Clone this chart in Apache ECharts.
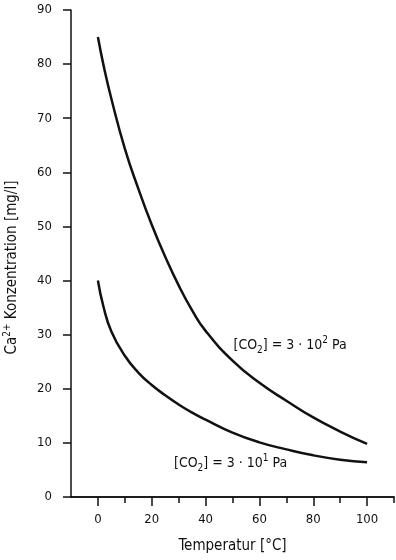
<!DOCTYPE html>
<html><head><meta charset="utf-8">
<script src="https://cdn.jsdelivr.net/npm/echarts@6/dist/echarts.min.js"></script>
<style>html,body{margin:0;padding:0;background:#fff}#c{width:396px;height:560px}</style>
</head><body><div id="c"></div>
<script>
const temperature = [0, 2, 5, 10, 15, 20, 25, 30, 35, 40, 50, 60, 70, 80, 90, 100];
const caHigh = [85, 80, 73.6, 64.4, 57, 50.3, 44.4, 39.1, 34.5, 30.7, 25.2, 21.1, 17.8, 14.7, 12.1, 9.8];
const caLow  = [40, 35.3, 30.6, 26.1, 23, 20.7, 18.8, 17.1, 15.6, 14.3, 11.9, 10.1, 8.8, 7.7, 6.9, 6.4];
const xMajorTicks = [0, 20, 40, 60, 80, 100];
const xMinorTicks = [10, 30, 50, 70, 90, 110];
const yTicks = [0, 10, 20, 30, 40, 50, 60, 70, 80, 90];
const labelHigh = { x: 71.4, y: 28, sup: '2' };
const labelLow = { x: 49.3, y: 6.3, sup: '1' };

const FONT = "'Liberation Sans Narrow', 'DejaVu Sans Condensed', sans-serif";
const INK = '#111';

function pairs(xs, ys) { return xs.map((x, i) => [x, ys[i]]); }

const richStyle = {
  b: { fontSize: 14, fontFamily: FONT, color: INK, lineHeight: 20, verticalAlign: 'middle' },
  sub: { fontSize: 10, fontFamily: FONT, color: INK, lineHeight: 20, verticalAlign: 'bottom' },
  sup: { fontSize: 10, fontFamily: FONT, color: INK, lineHeight: 20, verticalAlign: 'top' }
};
function coLabel(sup) {
  return '{b|[CO}{sub|2}{b|] = 3 · 10}{sup|' + sup + '}{b| Pa}';
}

const chart = echarts.init(document.getElementById('c'), null, { renderer: 'canvas' });
const baseX = {
  type: 'value', min: -10, max: 110, interval: 10, position: 'bottom',
  axisLine: { show: true, onZero: false, lineStyle: { color: INK, width: 1.5 } },
  splitLine: { show: false }
};
chart.setOption({
  animation: false,
  backgroundColor: '#fff',
  grid: { left: 71, top: 10, width: 323, height: 487, containLabel: false, outerBoundsMode: 'none' },
  xAxis: [
    Object.assign({}, baseX, {
      name: 'Temperatur [°C]', nameLocation: 'middle', nameGap: 42,
      nameTextStyle: { fontSize: 15, fontFamily: FONT, color: INK },
      axisTick: { show: true, length: 9, customValues: xMajorTicks, lineStyle: { color: INK, width: 1.5 } },
      axisLabel: { show: true, margin: 16, customValues: xMajorTicks, fontSize: 13, fontFamily: FONT, color: INK }
    }),
    Object.assign({}, baseX, {
      axisTick: { show: true, length: 6, customValues: xMinorTicks, lineStyle: { color: INK, width: 1.5 } },
      axisLabel: { show: false }
    })
  ],
  yAxis: {
    type: 'value', min: 0, max: 90, interval: 10,
    name: '{b|Ca}{sup|2+}{b| Konzentration [mg/l]}', nameLocation: 'middle', nameGap: 49, nameRotate: 90,
    nameTextStyle: { fontSize: 15, fontFamily: FONT, color: INK, padding: [0, 28, 0, 0], rich: {
      b: { fontSize: 15, fontFamily: FONT, color: INK, lineHeight: 20 },
      sup: { fontSize: 10, fontFamily: FONT, color: INK, lineHeight: 20, verticalAlign: 'top' }
    } },
    axisLine: { show: true, onZero: false, lineStyle: { color: INK, width: 1.5 } },
    axisTick: { show: true, length: 8, customValues: yTicks, lineStyle: { color: INK, width: 1.5 } },
    axisLabel: { margin: 19, fontSize: 13, fontFamily: FONT, color: INK },
    splitLine: { show: false }
  },
  series: [
    { type: 'line', xAxisIndex: 0, data: pairs(temperature, caHigh), smooth: 0.5, showSymbol: false,
      lineStyle: { color: INK, width: 2.5 },
      markPoint: { symbolSize: 0, silent: true,
        label: { show: true, position: 'inside', formatter: coLabel(labelHigh.sup), rich: richStyle },
        data: [{ coord: [labelHigh.x, labelHigh.y] }] } },
    { type: 'line', xAxisIndex: 0, data: pairs(temperature, caLow), smooth: 0.5, showSymbol: false,
      lineStyle: { color: INK, width: 2.5 },
      markPoint: { symbolSize: 0, silent: true,
        label: { show: true, position: 'inside', formatter: coLabel(labelLow.sup), rich: richStyle },
        data: [{ coord: [labelLow.x, labelLow.y] }] } }
  ]
});
</script></body></html>
